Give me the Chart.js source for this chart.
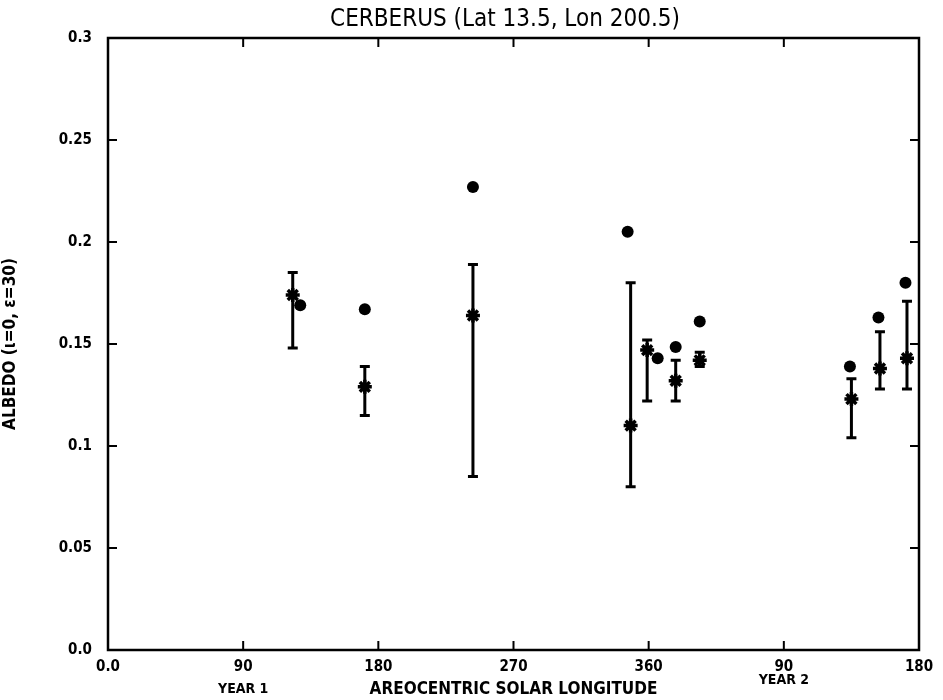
<!DOCTYPE html>
<html>
<head>
<meta charset="utf-8">
<script src="https://cdn.jsdelivr.net/npm/chart.js@4"></script>
<style>
  html, body { margin: 0; padding: 0; background: #fff; }
  #wrap { width: 943px; height: 700px; }
</style>
</head>
<body>
<div id="wrap"><canvas id="chart" width="943" height="700"></canvas></div>
<script>
// areocentric solar longitude (0-540 spans year 1 and half of year 2)
const starLon = [123, 171, 243, 348, 359, 378, 394, 495, 514, 532];
const starAlbedo = [0.174, 0.129, 0.164, 0.110, 0.147, 0.132, 0.142, 0.123, 0.138, 0.143];
const barLow = [0.148, 0.115, 0.085, 0.080, 0.122, 0.122, 0.139, 0.104, 0.128, 0.128];
const barHigh = [0.185, 0.139, 0.189, 0.180, 0.152, 0.142, 0.146, 0.133, 0.156, 0.171];

const dotLon = [128, 171, 243, 346, 366, 378, 394, 494, 513, 531];
const dotAlbedo = [0.169, 0.167, 0.227, 0.205, 0.143, 0.1485, 0.161, 0.139, 0.163, 0.180];

const xTickLabels = ["0.0", "90", "180", "270", "360", "90", "180"];
const yTickLabels = ["0.0", "0.05", "0.1", "0.15", "0.2", "0.25", "0.3"];

const stars = starLon.map((x, i) => ({ x: x, y: starAlbedo[i] }));
const dots = dotLon.map((x, i) => ({ x: x, y: dotAlbedo[i] }));

const boldFont = "'Liberation Sans Narrow', 'DejaVu Sans Condensed', 'Liberation Sans', sans-serif";

// vertical error bars with caps, drawn under the markers
const errorBars = {
  id: "errorBars",
  beforeDatasetsDraw(chart) {
    const ctx = chart.ctx;
    const xs = chart.scales.x, ys = chart.scales.y;
    ctx.save();
    ctx.strokeStyle = "#000";
    ctx.lineWidth = 3;
    starLon.forEach((lon, i) => {
      const px = xs.getPixelForValue(lon);
      const top = ys.getPixelForValue(barHigh[i]);
      const bot = ys.getPixelForValue(barLow[i]);
      ctx.beginPath();
      ctx.moveTo(px, top);
      ctx.lineTo(px, bot);
      ctx.moveTo(px - 5, top);
      ctx.lineTo(px + 5, top);
      ctx.moveTo(px - 5, bot);
      ctx.lineTo(px + 5, bot);
      ctx.stroke();
    });
    ctx.restore();
  }
};

// box round the plot with inward ticks, the title and the year labels
const frame = {
  id: "frame",
  afterDraw(chart) {
    const ctx = chart.ctx;
    const a = chart.chartArea;
    const xs = chart.scales.x, ys = chart.scales.y;
    ctx.save();
    ctx.strokeStyle = "#000";
    ctx.lineWidth = 2.5;
    ctx.strokeRect(a.left, a.top, a.right - a.left, a.bottom - a.top);
    ctx.lineWidth = 2;
    ctx.beginPath();
    xs.ticks.forEach(t => {
      if (t.value <= 0 || t.value >= 540) return;
      const px = xs.getPixelForValue(t.value);
      ctx.moveTo(px, a.bottom);
      ctx.lineTo(px, a.bottom - 9);
      ctx.moveTo(px, a.top);
      ctx.lineTo(px, a.top + 9);
    });
    ys.ticks.forEach(t => {
      if (t.value <= 0 || t.value >= 0.3) return;
      const py = ys.getPixelForValue(t.value);
      ctx.moveTo(a.left, py);
      ctx.lineTo(a.left + 9, py);
      ctx.moveTo(a.right, py);
      ctx.lineTo(a.right - 9, py);
    });
    ctx.stroke();

    ctx.fillStyle = "#000";
    ctx.textAlign = "center";
    ctx.textBaseline = "middle";
    ctx.font = "24px " + boldFont;
    ctx.fillText("CERBERUS (Lat 13.5, Lon 200.5)", 505, 20);
    ctx.font = "bold 14px " + boldFont;
    ctx.fillText("YEAR 1", xs.getPixelForValue(90), 689);
    ctx.fillText("YEAR 2", xs.getPixelForValue(450), 680);
    ctx.restore();
  }
};

new Chart(document.getElementById("chart"), {
  type: "scatter",
  data: {
    datasets: [
      {
        label: "mean",
        data: stars,
        pointStyle: "star",
        pointRadius: 7,
        borderWidth: 3.5,
        borderColor: "#000",
        backgroundColor: "#000"
      },
      {
        label: "single",
        data: dots,
        pointStyle: "circle",
        pointRadius: 6,
        borderWidth: 0,
        backgroundColor: "#000"
      }
    ]
  },
  options: {
    responsive: false,
    animation: false,
    layout: { padding: { left: 0, right: 24, top: 38, bottom: 0 } },
    plugins: {
      legend: { display: false },
      tooltip: { enabled: false },
      title: { display: false }
    },
    scales: {
      x: {
        type: "linear",
        min: 0,
        max: 540,
        ticks: {
          stepSize: 90,
          color: "#000",
          padding: 8,
          maxRotation: 0,
          font: { family: boldFont, size: 15, weight: "bold" },
          callback: (v) => xTickLabels[Math.round(v / 90)]
        },
        grid: { display: false, drawTicks: false },
        border: { display: false },
        title: {
          display: true,
          text: "AREOCENTRIC SOLAR LONGITUDE",
          color: "#000",
          font: { family: boldFont, size: 17, weight: "bold" },
          padding: { top: 2, bottom: 0 }
        },
        afterFit: (s) => { s.height = 50; }
      },
      y: {
        min: 0,
        max: 0.3,
        ticks: {
          stepSize: 0.05,
          color: "#000",
          padding: 16,
          font: { family: boldFont, size: 15, weight: "bold" },
          callback: (v) => yTickLabels[Math.round(v / 0.05)]
        },
        grid: { display: false, drawTicks: false },
        border: { display: false },
        title: {
          display: true,
          text: "ALBEDO (ι=0, ε=30)",
          color: "#000",
          font: { family: boldFont, size: 17, weight: "bold" },
          padding: { top: 0, bottom: 18 }
        },
        afterFit: (s) => { s.width = 108; }
      }
    }
  },
  plugins: [errorBars, frame]
});
</script>
</body>
</html>
